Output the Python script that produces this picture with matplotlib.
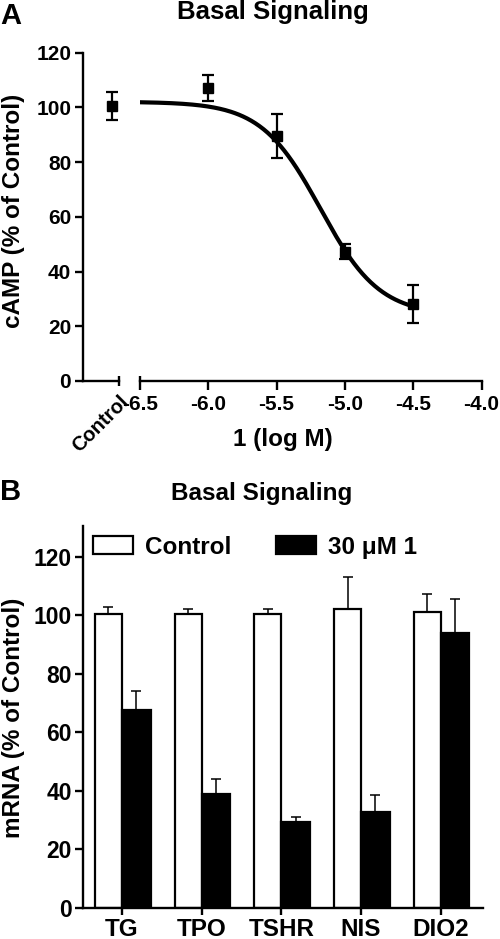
import numpy as np
import matplotlib
matplotlib.use('Agg')
import matplotlib.pyplot as plt

plt.rcParams['font.family'] = ['Liberation Sans', 'DejaVu Sans']
plt.rcParams['font.weight'] = 'bold'
plt.rcParams['axes.unicode_minus'] = False

# Panel A: cAMP dose response
ctrl_mean = 100.4
ctrl_sem = 5.0
log_dose = [-6.0, -5.5, -5.0, -4.5]
camp_mean = [107.0, 89.5, 47.2, 28.1]
camp_sem = [4.6, 8.1, 2.8, 6.9]
dose_ticks = [-6.5, -6.0, -5.5, -5.0, -4.5, -4.0]

# fitted sigmoid (top, bottom, logIC50, hill slope)
fit_top = 102.0
fit_bottom = 24.0
fit_logic50 = -5.18
fit_hill = 2.0

# Panel B: mRNA levels
genes = ['TG', 'TPO', 'TSHR', 'NIS', 'DIO2']
mrna_ctrl = [100.4, 100.5, 100.6, 102.2, 101.0]
mrna_ctrl_sem = [2.4, 1.8, 1.4, 11.0, 6.4]
mrna_trt = [67.5, 38.9, 29.4, 32.8, 93.9]
mrna_trt_sem = [6.5, 5.0, 1.7, 5.7, 11.8]

W, H = 500, 939
fig = plt.figure(figsize=(W / 100, H / 100), dpi=100)


def box(l, t, r, b):
    return [l / W, 1 - b / H, (r - l) / W, (b - t) / H]


lw_axis = 1.7

# ---------- Panel A ----------
ax_c = fig.add_axes(box(83, 52.5, 119, 381))
ax_m = fig.add_axes(box(140, 52.5, 481.5, 381), sharey=ax_c)

for ax in (ax_c, ax_m):
    ax.spines['top'].set_visible(False)
    ax.spines['right'].set_visible(False)
    for s in ax.spines.values():
        s.set_linewidth(lw_axis)
ax_m.spines['left'].set_visible(False)

ax_c.set_ylim(0, 120)
ax_c.set_yticks(range(0, 121, 20))
ax_c.tick_params(axis='y', length=5.5, width=lw_axis, pad=3, labelsize=15)
ax_c.set_xlim(0, 1)
ax_c.set_xticks([1])
ax_c.set_xticklabels(['Control'], rotation=45, ha='right', va='top',
                     rotation_mode='anchor', fontsize=14.5)
ax_c.tick_params(axis='x', direction='inout', length=7.5, width=lw_axis, pad=4)
ax_c.errorbar([0.8], [ctrl_mean], yerr=[ctrl_sem], fmt='s', color='black',
              ms=6.5, elinewidth=1.6, capsize=4, capthick=1.6, clip_on=False)

ax_m.set_xlim(-6.5, -4.0)
ax_m.set_xticks(dose_ticks)
ax_m.set_xticklabels([f'{t:.1f}' for t in dose_ticks])
ax_m.tick_params(axis='x', length=6.5, width=lw_axis, pad=3.5, labelsize=15)
ax_m.tick_params(axis='y', left=False, labelleft=False)
ax_m.plot([0, 0], [0, 0.016], transform=ax_m.transAxes, color='black',
          lw=lw_axis, clip_on=False, solid_capstyle='butt')

xs = np.linspace(-6.5, -4.5, 200)
ys = fit_bottom + (fit_top - fit_bottom) / (1 + 10 ** ((xs - fit_logic50) * fit_hill))
ax_m.plot(xs, ys, color='black', lw=3)
ax_m.errorbar(log_dose, camp_mean, yerr=camp_sem, fmt='s', color='black',
              ms=6.5, elinewidth=1.6, capsize=4, capthick=1.6, clip_on=False)

fig.text(0, 1 - 24 / H, 'A', fontsize=21, fontweight='bold', va='baseline')
fig.text(273 / W, 1 - 19.3 / H, 'Basal Signaling', fontsize=18.5, ha='center',
         va='baseline')
fig.text(283 / W, 1 - 446 / H, '1 (log M)', fontsize=17.5, ha='center',
         va='baseline')
fig.text(14 / W, 1 - 211 / H, 'cAMP (% of Control)', fontsize=17.5,
         rotation=90, ha='center', va='center')

# ---------- Panel B ----------
ax_b = fig.add_axes(box(83, 526, 483, 908))
ax_b.spines['top'].set_visible(False)
ax_b.spines['right'].set_visible(False)
for s in ax_b.spines.values():
    s.set_linewidth(lw_axis)

x = np.arange(len(genes))
wc, wt = 0.34, 0.36
ax_b.bar(x - wc, mrna_ctrl, width=wc, align='edge', color='white',
         edgecolor='black', linewidth=1.6, label='Control')
ax_b.bar(x, mrna_trt, width=wt, align='edge', color='black',
         edgecolor='black', linewidth=1.6, label='30 μM 1')
ax_b.errorbar(x - wc / 2, mrna_ctrl, yerr=[[0] * len(genes), mrna_ctrl_sem],
              fmt='none', ecolor='black', elinewidth=1.1, capsize=3.3,
              capthick=1.1)
ax_b.errorbar(x + wt / 2, mrna_trt, yerr=[[0] * len(genes), mrna_trt_sem],
              fmt='none', ecolor='black', elinewidth=1.1, capsize=3.3,
              capthick=1.1)

ax_b.set_xlim(-0.49, 4.53)
ax_b.set_ylim(0, 130.5)
ax_b.set_yticks(range(0, 121, 20))
ax_b.set_xticks(x)
ax_b.set_xticklabels(genes)
ax_b.tick_params(axis='y', length=6, width=lw_axis, pad=2, labelsize=16.5)
ax_b.tick_params(axis='x', length=5, width=lw_axis, pad=2, labelsize=17.5)

ax_b.legend(loc='center left', bbox_to_anchor=(10 / 400, 0.945), ncol=2,
            frameon=False, fontsize=17.5, borderpad=0, borderaxespad=0,
            handlelength=1.65, handleheight=0.74, handletextpad=0.48,
            columnspacing=1.85)

fig.text(0, 1 - 500 / H, 'B', fontsize=21, fontweight='bold', va='baseline')
fig.text(262 / W, 1 - 500 / H, 'Basal Signaling', fontsize=17.5, ha='center',
         va='baseline')
fig.text(14 / W, 1 - 718 / H, 'mRNA (% of Control)', fontsize=17.5,
         rotation=90, ha='center', va='center')

fig.savefig('out.png', dpi=100)
